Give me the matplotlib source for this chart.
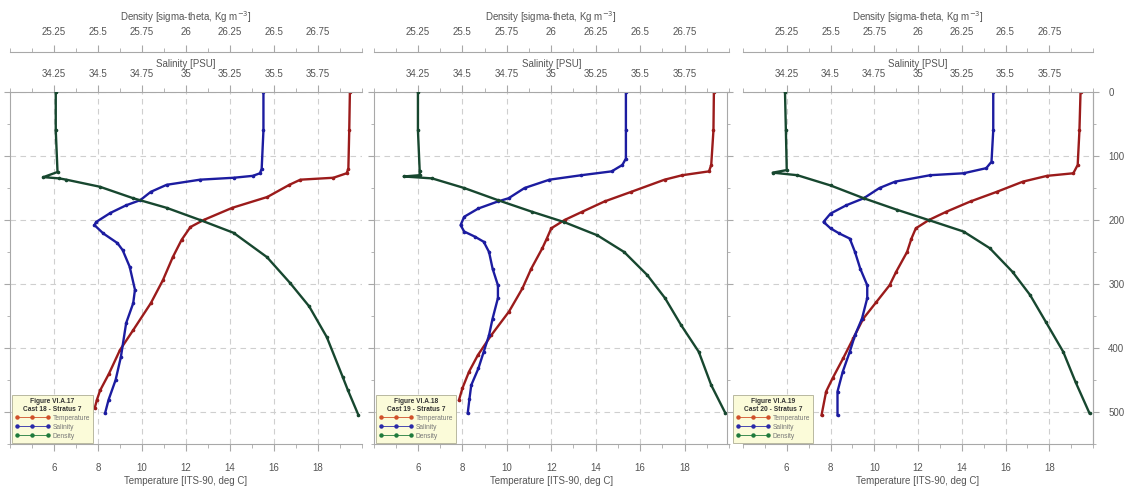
import matplotlib.pyplot as plt
from matplotlib.lines import Line2D
from matplotlib.ticker import MultipleLocator

plt.rcParams['font.family'] = ['Liberation Sans', 'DejaVu Sans']

# ---- data (depth in m) ----
# Cast 18
c18_temp_depth = [0, 60, 120, 127, 134, 137, 145, 164, 181, 200, 211, 231, 258, 294, 330, 372, 403, 440, 466, 481, 494]
c18_temp = [19.45, 19.42, 19.38, 19.3, 18.7, 17.2, 16.7, 15.7, 14.1, 12.8, 12.2, 11.8, 11.4, 10.95, 10.4, 9.6, 9.0, 8.5, 8.1, 7.95, 7.85]
c18_sal_depth = [0, 60, 120, 127, 131, 134, 137, 145, 156, 169, 177, 189, 203, 208, 221, 236, 247, 273, 309, 330, 361, 414, 450, 481, 502]
c18_sal = [35.44, 35.44, 35.43, 35.42, 35.38, 35.27, 35.08, 34.89, 34.80, 34.74, 34.66, 34.57, 34.49, 34.48, 34.53, 34.61, 34.64, 34.68, 34.71, 34.70, 34.66, 34.63, 34.60, 34.56, 34.54]
c18_dens_depth = [0, 60, 125, 133, 135, 137, 148, 166, 181, 200, 220, 258, 298, 335, 383, 445, 466, 505]
c18_dens = [25.26, 25.26, 25.27, 25.19, 25.28, 25.32, 25.51, 25.70, 25.89, 26.08, 26.27, 26.46, 26.59, 26.70, 26.80, 26.89, 26.92, 26.98]

# Cast 19
c19_temp_depth = [0, 60, 114, 124, 130, 137, 156, 171, 187, 200, 213, 229, 244, 276, 307, 343, 380, 411, 437, 463, 481]
c19_temp = [19.32, 19.3, 19.2, 19.1, 17.9, 17.1, 15.6, 14.4, 13.4, 12.6, 12.0, 11.8, 11.6, 11.1, 10.7, 10.1, 9.3, 8.7, 8.3, 8.0, 7.85]
c19_sal_depth = [0, 60, 104, 114, 124, 130, 137, 150, 166, 171, 182, 195, 208, 218, 226, 234, 250, 276, 302, 322, 354, 380, 406, 432, 458, 479, 502]
c19_sal = [35.42, 35.42, 35.42, 35.40, 35.34, 35.17, 34.99, 34.85, 34.76, 34.70, 34.59, 34.51, 34.49, 34.51, 34.57, 34.62, 34.65, 34.67, 34.70, 34.70, 34.67, 34.65, 34.62, 34.59, 34.55, 34.54, 34.53]
c19_dens_depth = [0, 60, 124, 130, 132, 135, 150, 169, 187, 203, 224, 250, 286, 322, 364, 406, 458, 502]
c19_dens = [25.25, 25.25, 25.26, 25.26, 25.17, 25.33, 25.51, 25.70, 25.89, 26.07, 26.26, 26.41, 26.54, 26.64, 26.73, 26.83, 26.90, 26.98]

# Cast 20
c20_temp_depth = [0, 60, 114, 127, 131, 140, 156, 171, 187, 200, 213, 229, 250, 281, 302, 328, 354, 385, 416, 447, 468, 505]
c20_temp = [19.43, 19.38, 19.3, 19.1, 17.9, 16.8, 15.6, 14.4, 13.3, 12.5, 11.9, 11.7, 11.5, 11.0, 10.7, 10.1, 9.5, 9.04, 8.58, 8.1, 7.8, 7.59]
c20_sal_depth = [0, 60, 109, 119, 127, 130, 140, 150, 166, 177, 190, 203, 213, 221, 229, 250, 276, 302, 322, 354, 380, 406, 437, 468, 505]
c20_sal = [35.43, 35.43, 35.42, 35.39, 35.26, 35.07, 34.87, 34.78, 34.69, 34.59, 34.50, 34.46, 34.50, 34.55, 34.61, 34.64, 34.67, 34.71, 34.71, 34.68, 34.64, 34.61, 34.57, 34.54, 34.54]
c20_dens_depth = [0, 60, 122, 126, 130, 146, 166, 184, 200, 218, 244, 281, 317, 359, 406, 453, 502]
c20_dens = [25.24, 25.245, 25.25, 25.17, 25.31, 25.50, 25.69, 25.88, 26.06, 26.26, 26.41, 26.54, 26.64, 26.73, 26.83, 26.90, 26.98]

temp_ticks = [6, 8, 10, 12, 14, 16, 18]
sal_ticks = [34.25, 34.5, 34.75, 35, 35.25, 35.5, 35.75]
sal_labels = ["34.25", "34.5", "34.75", "35", "35.25", "35.5", "35.75"]
dens_ticks = [25.25, 25.5, 25.75, 26, 26.25, 26.5, 26.75]
dens_labels = ["25.25", "25.5", "25.75", "26", "26.25", "26.5", "26.75"]
depth_ticks = [0, 100, 200, 300, 400, 500]
series_names = ["Temperature", "Salinity", "Density"]
# -----------------------------------------------------

TEMP_C, SAL_C, DENS_C = "#9b1b1b", "#1c1ca0", "#17472f"
LEG_C = ["#d0502a", "#2a2aa8", "#1e7a3c"]
SPINE_C = "#a8a8a8"
TEXT_C = "#555555"
FS = 7

fig = plt.figure(figsize=(11.28, 4.86), dpi=100)
W, H = 1128.0, 486.0


def style_top(axt, ticks, labels, label, outward, pad, labelpad):
    for s in ("left", "right", "bottom"):
        axt.spines[s].set_visible(False)
    axt.spines["top"].set_color(SPINE_C)
    axt.spines["top"].set_position(("outward", outward))
    axt.set_xticks(ticks)
    axt.set_xticklabels(labels)
    axt.xaxis.set_minor_locator(MultipleLocator(0.125))
    axt.tick_params(axis="x", which="major", length=5, color=SPINE_C,
                    labelcolor=TEXT_C, labelsize=FS, pad=pad)
    axt.tick_params(axis="x", which="minor", length=3, color=SPINE_C)
    axt.set_xlabel(label, fontsize=FS, color=TEXT_C, labelpad=labelpad)


def draw_panel(x0, x1, temp_d, temp, sal_d, sal, dens_d, dens, fig_no, cast, last):
    ax = fig.add_axes([x0 / W, 1 - 444 / H, (x1 - x0) / W, (444 - 92) / H])
    ax.plot(temp, temp_d, color=TEMP_C, lw=1.7, marker="o", ms=1.6)
    ax.set_xlim(4, 20)
    ax.set_ylim(550, 0)
    ax.set_xticks(temp_ticks)
    ax.xaxis.set_minor_locator(MultipleLocator(1))
    ax.set_yticks(depth_ticks)
    ax.yaxis.set_minor_locator(MultipleLocator(50))
    ax.grid(True, which="major", color="#cfcfcf", lw=0.8, ls=(0, (5, 4)))
    ax.set_axisbelow(True)
    ax.spines["top"].set_visible(False)
    ax.spines["right"].set_visible(last)
    for s in ("left", "bottom", "right"):
        ax.spines[s].set_color(SPINE_C)
    ax.tick_params(axis="x", which="major", length=5, color=SPINE_C,
                   labelcolor=TEXT_C, labelsize=FS, pad=9)
    ax.tick_params(axis="x", which="minor", length=3, color=SPINE_C)
    ax.tick_params(axis="y", which="both", labelleft=False, color=SPINE_C)
    ax.tick_params(axis="y", which="major", length=4)
    ax.tick_params(axis="y", which="minor", length=2.5)
    ax.set_xlabel("Temperature [ITS-90, deg C]", fontsize=FS, color=TEXT_C, labelpad=1.5)

    if last:
        ax.spines["left"].set_position(("outward", 11.5))
        ax.tick_params(axis="y", which="both", direction="in")
        sec = ax.secondary_yaxis("right")
        sec.set_yticks(depth_ticks)
        sec.yaxis.set_minor_locator(MultipleLocator(50))
        sec.spines["right"].set_color(SPINE_C)
        sec.tick_params(axis="y", which="major", length=4, color=SPINE_C,
                        labelcolor=TEXT_C, labelsize=FS, pad=7)
        sec.tick_params(axis="y", which="minor", length=2.5, color=SPINE_C)

    ax_s = ax.twiny()
    ax_s.set_xlim(34, 36)
    ax_s.plot(sal, sal_d, color=SAL_C, lw=1.7, marker="o", ms=1.6)
    style_top(ax_s, sal_ticks, sal_labels, "Salinity [PSU]", 0, 4, 2)

    ax_d = ax.twiny()
    ax_d.set_xlim(25, 27)
    ax_d.plot(dens, dens_d, color=DENS_C, lw=1.7, marker="o", ms=1.6)
    style_top(ax_d, dens_ticks, dens_labels, "Density [sigma-theta, Kg m$^{-3}$]", 28.8, 6, 4)

    handles = [Line2D([], [], color=c, lw=0.6, marker="o", ms=2.2) for c in LEG_C]
    anchor_x = -0.03 if last else 0.006
    leg = ax_d.legend(handles, series_names, loc="lower left",
                      bbox_to_anchor=(anchor_x, 0.004),
                      borderaxespad=0, numpoints=3, handlelength=5.2,
                      fontsize=4.8, labelspacing=0.3, handletextpad=0.4,
                      borderpad=0.45, fancybox=False, framealpha=1,
                      facecolor="#fbfbd9", edgecolor="#b8b8a0",
                      title=f"{fig_no}\n{cast}",
                      title_fontproperties={"size": 4.8, "weight": "bold"})
    leg.get_frame().set_linewidth(0.7)
    leg.get_title().set_color("#333333")
    leg.get_title().set_multialignment("center")
    for t in leg.get_texts():
        t.set_color("#777777")


draw_panel(10, 362, c18_temp_depth, c18_temp, c18_sal_depth, c18_sal,
           c18_dens_depth, c18_dens, "Figure VI.A.17", "Cast 18 - Stratus 7", False)
draw_panel(373.5, 729, c19_temp_depth, c19_temp, c19_sal_depth, c19_sal,
           c19_dens_depth, c19_dens, "Figure VI.A.18", "Cast 19 - Stratus 7", False)
draw_panel(743, 1093, c20_temp_depth, c20_temp, c20_sal_depth, c20_sal,
           c20_dens_depth, c20_dens, "Figure VI.A.19", "Cast 20 - Stratus 7", True)

fig.savefig("out.png", dpi=100)
